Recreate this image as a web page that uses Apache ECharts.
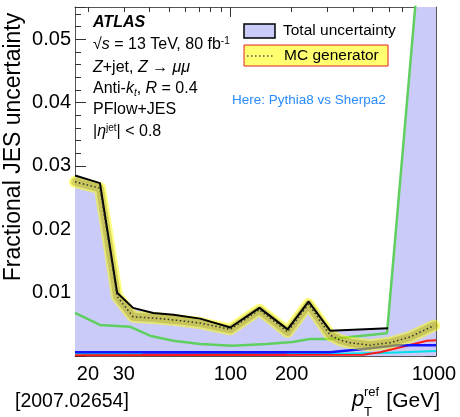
<!DOCTYPE html>
<html>
<head>
<meta charset="utf-8">
<script src="https://cdn.jsdelivr.net/npm/echarts@6/dist/echarts.min.js"></script>
<style>
  html, body { margin: 0; padding: 0; background: #fff; }
  #chart { width: 460px; height: 417px; }
</style>
</head>
<body>
<div id="chart"></div>
<script>
// pT values in GeV, uncertainties as fractions
var ptTotal = [17.27, 22.9, 27.8, 33.3, 41.8, 52.5, 71.2, 100, 139, 191, 242, 309, 595];
var totalUnc = [0.0285, 0.0273, 0.0100, 0.0076, 0.0068, 0.0065, 0.0059, 0.0045, 0.0076, 0.0042, 0.0086, 0.0040, 0.0044];
var ptTotalHigh = [816, 1023];
var totalUncHigh = [0.056, 0.08];

var ptMC = [17.27, 22.9, 27.8, 33.3, 41.8, 52.5, 71.2, 100, 139, 191, 242, 309, 346, 387, 485, 608, 763, 1000];
var mcGen = [0.0275, 0.0265, 0.0094, 0.0062, 0.0060, 0.0057, 0.0052, 0.0042, 0.0073, 0.0038, 0.0082, 0.0033, 0.0025, 0.0021, 0.0017, 0.0021, 0.0030, 0.0048];

var ptGreen = [17.27, 22.9, 32.3, 40.3, 52.4, 71, 102, 151, 202, 246, 309, 588, 808, 1023];
var greenUnc = [0.0068, 0.0049, 0.0046, 0.0032, 0.0024, 0.0019, 0.0016, 0.0019, 0.0022, 0.0027, 0.0027, 0.0036, 0.055, 0.08];

var ptBlue = [17.27, 309, 449, 659, 1023];
var blueUnc = [0.0006, 0.0006, 0.0011, 0.0017, 0.0017];
var ptRed = [17.27, 450, 543, 925, 1023];
var redUnc = [0.0001, 0.0002, 0.0006, 0.0024, 0.0025];
var ptCyan = [17.27, 309, 600, 1023];
var cyanUnc = [0.0003, 0.0003, 0.0005, 0.0008];
var ptMagenta = [37, 190];
var magentaUnc = [0.0002, 0.0002];

var xMinorTicks = [20, 30, 40, 50, 60, 70, 80, 90, 200, 300, 400, 500, 600, 700, 800, 900];
var xMajorTicks = [100, 1000];
var xLabels = [20, 30, 100, 200, 1000];

var FONT = "'Liberation Sans', Arial, Helvetica, sans-serif";
var LOG_MIN = Math.log10(17.27);
var LOG_MAX = Math.log10(1023);

function pairs (xs, ys) {
  return xs.map(function (x, i) { return [Math.log10(x), ys[i]]; });
}
function logs (xs) {
  return xs.map(function (x) { return Math.log10(x); });
}

function xAx (pos, ticks, len, showLine, labels) {
  return {
    type: 'value', position: pos, min: LOG_MIN, max: LOG_MAX,
    axisLine: { show: showLine, lineStyle: { color: '#555', width: 1 } },
    axisTick: { show: true, inside: true, length: len, customValues: logs(ticks), lineStyle: { color: '#333' } },
    axisLabel: labels ? {
      show: true, customValues: logs(xLabels), margin: 8,
      color: '#000', fontSize: 20, fontFamily: FONT,
      formatter: function (v) { return String(Math.round(Math.pow(10, v))); }
    } : { show: false },
    splitLine: { show: false }
  };
}

function yAx (pos, labels) {
  return {
    type: 'value', position: pos, min: 0, max: 0.0551, interval: 0.01,
    axisLine: { show: true, lineStyle: { color: '#555', width: 1 } },
    axisTick: { show: true, inside: true, length: 11, lineStyle: { color: '#333' } },
    minorTick: { show: true, splitNumber: 5, length: 6, lineStyle: { color: '#333' } },
    axisLabel: labels ? {
      show: true, margin: 4, color: '#000', fontSize: 20, fontFamily: FONT,
      formatter: function (v) { return (v === 0 || v > 0.0505) ? '' : v.toFixed(2); }
    } : { show: false },
    splitLine: { show: false }
  };
}

function line (name, xs, ys, color, width, z, extra) {
  var s = {
    name: name, type: 'line', data: pairs(xs, ys), symbol: 'none', z: z,
    lineStyle: { color: color, width: width }, silent: true
  };
  for (var k in extra) s[k] = extra[k];
  return s;
}

var chart = echarts.init(document.getElementById('chart'));
var option = {
  animation: false,
  textStyle: { fontFamily: FONT },
  grid: { left: 75, right: 24, top: 7, bottom: 61, outerBoundsMode: 'none' },
  xAxis: [
    xAx('bottom', xMinorTicks, 5, true, true),
    xAx('bottom', xMajorTicks, 10, false, false),
    xAx('top', xMinorTicks, 5, true, false),
    xAx('top', xMajorTicks, 10, false, false)
  ],
  yAxis: [yAx('left', true), yAx('right', false)],
  series: [
    line('Total uncertainty', ptTotal.concat(ptTotalHigh), totalUnc.concat(totalUncHigh), 'rgba(0,0,0,0)', 0, 1,
      { areaStyle: { color: '#cbcbfa', opacity: 1 } }),
    line('cyan', ptCyan, cyanUnc, '#00e0ea', 2, 2),
    line('magenta', ptMagenta, magentaUnc, '#c000c0', 2.5, 3),
    line('red', ptRed, redUnc, '#ff1a1a', 2, 3),
    line('blue', ptBlue, blueUnc, '#1414ff', 2.5, 4),
    line('green', ptGreen, greenUnc, '#5fd05f', 2.5, 5),
    line('band', ptMC, mcGen, 'rgba(255,255,0,0.5)', 12, 6, { lineStyle: { color: 'rgba(255,255,0,0.5)', width: 12, cap: 'round', join: 'round' } }),
    line('bandCore', ptMC, mcGen, 'rgba(140,135,30,0.35)', 8, 7, { lineStyle: { color: 'rgba(140,135,30,0.35)', width: 8, cap: 'round', join: 'round' } }),
    line('total', ptTotal, totalUnc, '#000', 2, 8),
    line('MC generator', ptMC, mcGen, '#333', 1.5, 9, { lineStyle: { color: '#333', width: 1.5, type: [1.5, 2.5] } })
  ],
  graphic: [
    { type: 'text', x: 14, y: 147, rotation: Math.PI / 2,
      style: { text: 'Fractional JES uncertainty', font: '23px ' + FONT, fill: '#000', align: 'center', verticalAlign: 'middle' } },
    { type: 'text', x: 93, y: 23,
      style: { text: 'ATLAS', font: 'italic bold 16px ' + FONT, fill: '#000', verticalAlign: 'middle' } },
    { type: 'text', x: 93, y: 45,
      style: {
        text: '√{i|s} = 13 TeV, 80 fb{sup|-1}', font: '16px ' + FONT, fill: '#000', verticalAlign: 'middle',
        rich: { i: { fontStyle: 'italic', fontSize: 16 }, sup: { fontSize: 10, verticalAlign: 'top', padding: [0, 0, 8, 0] } }
      } },
    { type: 'text', x: 93, y: 68,
      style: {
        text: '{i|Z}+jet, {i|Z} → {i|μμ}', font: '16px ' + FONT, fill: '#000', verticalAlign: 'middle',
        rich: { i: { fontStyle: 'italic', fontSize: 16 } }
      } },
    { type: 'text', x: 93, y: 89,
      style: {
        text: 'Anti-{i|k}{sub|t}, {i|R} = 0.4', font: '16px ' + FONT, fill: '#000', verticalAlign: 'middle',
        rich: { i: { fontStyle: 'italic', fontSize: 16 }, sub: { fontStyle: 'italic', fontSize: 10, verticalAlign: 'bottom', padding: [8, 0, 0, 0] } }
      } },
    { type: 'text', x: 93, y: 110,
      style: { text: 'PFlow+JES', font: '16px ' + FONT, fill: '#000', verticalAlign: 'middle' } },
    { type: 'text', x: 93, y: 132,
      style: {
        text: '|{i|η}{sup|jet}| < 0.8', font: '16px ' + FONT, fill: '#000', verticalAlign: 'middle',
        rich: { i: { fontStyle: 'italic', fontSize: 16 }, sup: { fontSize: 10, verticalAlign: 'top', padding: [0, 0, 8, 0] } }
      } },
    // legend
    { type: 'rect', shape: { x: 244, y: 24, width: 31, height: 14 },
      style: { fill: '#cbcbfa', stroke: '#000', lineWidth: 1.5 } },
    { type: 'text', x: 283, y: 31,
      style: { text: 'Total uncertainty', font: '15.5px ' + FONT, fill: '#000', verticalAlign: 'middle' } },
    { type: 'rect', shape: { x: 244, y: 45, width: 144, height: 21 },
      style: { fill: '#ffff70', stroke: '#e02020', lineWidth: 1 } },
    { type: 'line', shape: { x1: 247, y1: 56, x2: 273, y2: 56 },
      style: { stroke: '#555', lineWidth: 1.5, lineDash: [1.5, 2.5] } },
    { type: 'text', x: 284, y: 56,
      style: { text: 'MC generator', font: '15.5px ' + FONT, fill: '#000', verticalAlign: 'middle' } },
    { type: 'text', x: 232, y: 100,
      style: { text: 'Here: Pythia8 vs Sherpa2', font: '13.5px ' + FONT, fill: '#2a8cff', verticalAlign: 'middle' } },
    // x axis title
    { type: 'text', x: 352, y: 400,
      style: { text: 'p', font: 'italic 22px ' + FONT, fill: '#000', verticalAlign: 'middle' } },
    { type: 'text', x: 364, y: 392,
      style: { text: 'ref', font: '13px ' + FONT, fill: '#000', verticalAlign: 'middle' } },
    { type: 'text', x: 364, y: 412,
      style: { text: 'T', font: '13px ' + FONT, fill: '#000', verticalAlign: 'middle' } },
    { type: 'text', x: 440, y: 401,
      style: { text: '[GeV]', font: '21px ' + FONT, fill: '#000', align: 'right', verticalAlign: 'middle' } },
    { type: 'text', x: 15, y: 402,
      style: { text: '[2007.02654]', font: '19.5px ' + FONT, fill: '#000', verticalAlign: 'middle' } }
  ]
};
chart.setOption(option);
</script>
</body>
</html>
